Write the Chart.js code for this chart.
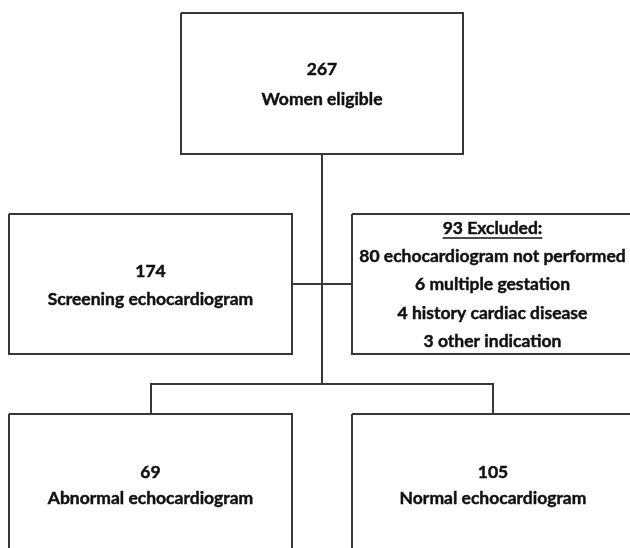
<!DOCTYPE html>
<html>
<head>
<meta charset="utf-8">
<script src="https://cdn.jsdelivr.net/npm/chart.js@4.4.1/dist/chart.umd.min.js"></script>
<style>
    html, body { margin: 0; padding: 0; background: #fff; }
    #wrap { width: 630px; height: 548px; }
</style>
</head>
<body>
<div id="wrap"><canvas id="flow"></canvas></div>
<script>
    // Counts shown in the flow diagram
    const nodeNames = ['Women eligible', 'Screening echocardiogram', 'Excluded:', 'Abnormal echocardiogram', 'Normal echocardiogram'];
    const nodeCounts = [267, 174, 93, 69, 105];
    const excludedReasons = ['echocardiogram not performed', 'multiple gestation', 'history cardiac disease', 'other indication'];
    const excludedCounts = [80, 6, 4, 3];

    // Layout of the boxes (diagram units = pixels of the 630x548 picture)
    const boxLeft = [181, 9, 352, 9, 352];
    const boxRight = [463, 292, 640, 292, 640];
    const boxTop = [13, 214, 214, 414, 414];
    const boxBottom = [154, 354, 354, 570, 570];

    // Connector paths, each a list of [x, y]
    const connectors = [
        [[322, 154], [322, 384]],
        [[292, 284], [352, 284]],
        [[151, 414], [151, 384], [493, 384], [493, 414]]
    ];

    const lineColor = '#383838';
    const textColor = '#111';
    const font = 'bold 17.5px Lato, "Open Sans", sans-serif';

    function boxPath(i) {
        return [
            { x: boxLeft[i], y: boxTop[i] },
            { x: boxRight[i], y: boxTop[i] },
            { x: boxRight[i], y: boxBottom[i] },
            { x: boxLeft[i], y: boxBottom[i] },
            { x: boxLeft[i], y: boxTop[i] }
        ];
    }

    const datasets = [];
    nodeCounts.forEach((c, i) => {
        datasets.push({ data: boxPath(i), borderColor: lineColor, borderWidth: 2, pointRadius: 0, showLine: true, fill: false, tension: 0 });
    });
    connectors.forEach(path => {
        datasets.push({ data: path.map(p => ({ x: p[0], y: p[1] })), borderColor: lineColor, borderWidth: 2, pointRadius: 0, showLine: true, fill: false, tension: 0 });
    });

    // Text lines for each box: [text, y, underline]
    const lineYs = { 0: [69, 99], 1: [271, 299], 3: [472, 498], 4: [472, 498] };
    function boxLines(i) {
        if (i === 2) {
            const lines = [[nodeCounts[2] + ' ' + nodeNames[2], 228, true]];
            excludedReasons.forEach((r, k) => {
                lines.push([excludedCounts[k] + ' ' + r, 256 + k * 28.5, false]);
            });
            return lines;
        }
        return [[String(nodeCounts[i]), lineYs[i][0], false], [nodeNames[i], lineYs[i][1], false]];
    }

    const textCenters = [322, 150.5, 492.5, 150.5, 493];

    const labelPlugin = {
        id: 'boxLabels',
        afterDatasetsDraw(chart) {
            const ctx = chart.ctx;
            const xs = chart.scales.x, ys = chart.scales.y;
            ctx.save();
            ctx.font = font;
            ctx.fillStyle = textColor;
            ctx.strokeStyle = textColor;
            ctx.textAlign = 'center';
            ctx.textBaseline = 'middle';
            nodeCounts.forEach((c, i) => {
                boxLines(i).forEach(([txt, y, underline]) => {
                    const px = xs.getPixelForValue(textCenters[i]);
                    const py = ys.getPixelForValue(y);
                    ctx.fillText(txt, px, py);
                    // slight stroke to get closer to the heavier original weight
                    ctx.lineWidth = 0.45;
                    ctx.strokeText(txt, px, py);
                    if (underline) {
                        const w = ctx.measureText(txt).width;
                        ctx.lineWidth = 1.4;
                        ctx.beginPath();
                        ctx.moveTo(px - w / 2, py + 10);
                        ctx.lineTo(px + w / 2, py + 10);
                        ctx.stroke();
                    }
                });
            });
            ctx.restore();
        }
    };

    new Chart(document.getElementById('flow'), {
        type: 'scatter',
        data: { datasets: datasets },
        options: {
            responsive: true,
            maintainAspectRatio: false,
            animation: false,
            layout: { padding: 0 },
            plugins: { legend: { display: false }, tooltip: { enabled: false } },
            scales: {
                x: { type: 'linear', min: 0, max: 630, display: false },
                y: { type: 'linear', min: 0, max: 548, reverse: true, display: false }
            }
        },
        plugins: [labelPlugin]
    });
</script>
</body>
</html>
